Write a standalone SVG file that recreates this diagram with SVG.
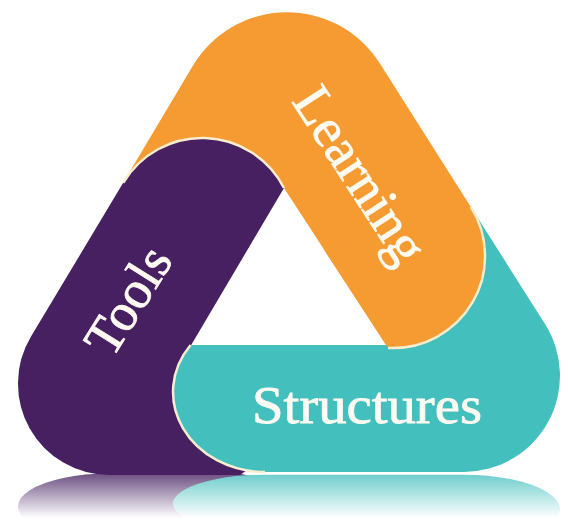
<svg xmlns="http://www.w3.org/2000/svg" width="568" height="529" viewBox="0 0 568 529">
<defs>
<style>
.purple{fill:#462061}
.teal{fill:#43BFBD}
.orange{fill:#F59B32}
.edge{fill:none;stroke:#F7EDCF;stroke-width:2.5}
.lbl{font-family:"Liberation Serif","Times New Roman",serif;font-size:53px;fill:#FFFBF2;stroke:#FFFBF2;stroke-width:0.8}
</style>
<linearGradient id="fade" gradientUnits="userSpaceOnUse" x1="0" y1="473" x2="0" y2="518">
<stop offset="0" stop-color="#fff" stop-opacity="0.8"/>
<stop offset="1" stop-color="#fff" stop-opacity="0"/>
</linearGradient>
<mask id="reflMask" maskUnits="userSpaceOnUse" x="0" y="470" width="568" height="59">
<rect x="0" y="473" width="568" height="56" fill="url(#fade)"/>
</mask>
</defs>
<rect width="568" height="529" fill="#fff"/>
<g id="reflection" mask="url(#reflMask)">
<g transform="matrix(1 0 0 -0.36 0 644.6)">
<use href="#tools-shape"/>
<use href="#structures-shape"/>
</g>
</g>
<g id="learning">
<path id="learning-shape" class="orange" d="M284,188 L388.1,347.9 A92 92 0 0 0 470.7,206.7 L379.9,63.6 A109.6 109.6 0 0 0 192.7,66 L123.2,182.8 L140,230 L250,230 Z"/>
</g>
<g id="tools">
<path id="tools-shape" class="purple" d="M284,188 A92 92 0 0 0 123.2,182.8 L31,336.6 A91.4 91.4 0 0 0 109.4,475 L240,475 L262,460 L235,395 L200,352 L191.2,345 Z"/>
<path class="edge" d="M284,188 A92 92 0 0 0 123.2,182.8"/>
<text class="lbl" text-anchor="middle" transform="translate(143,310) rotate(-58)">Tools</text>
</g>
<g id="structures">
<path id="structures-shape" class="teal" d="M190.6,345 L400,345 L420,320 L445,228 L470.7,206.7 L545,324.1 A96.3 96.3 0 0 1 463.7,472 L265,472 A92 80 0 0 1 190.6,345 Z"/>
<path class="edge" d="M265,472 A92 80 0 0 1 190.6,345"/>
<text class="lbl" x="367" y="423" text-anchor="middle" textLength="230" lengthAdjust="spacingAndGlyphs">Structures</text>
</g>
<g id="learning-front">
<path class="orange" d="M324.2,250 L388.1,347.9 A92 92 0 0 0 470.7,206.7 Z"/>
<path class="edge" d="M388.1,347.9 A92 92 0 0 0 470.7,206.7"/>
<text class="lbl" style="font-size:55px" text-anchor="middle" transform="translate(345,184.5) rotate(57)">Learning</text>
</g>
<g id="connectors"/>
</svg>
